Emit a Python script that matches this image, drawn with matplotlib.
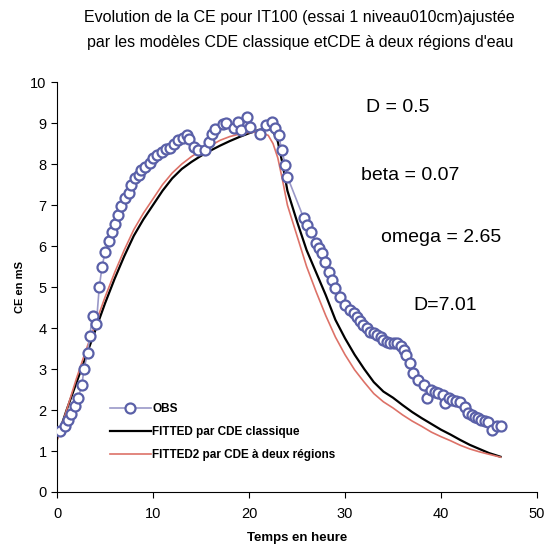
import matplotlib
matplotlib.use("Agg")
import matplotlib.pyplot as plt

plt.rcParams['font.family'] = ['Liberation Sans', 'DejaVu Sans']

# observations (temps en heure, CE en mS)
t_obs = [0.3, 0.8, 1.15, 1.5, 1.9, 2.2, 2.6, 2.8, 3.2, 3.4, 3.7, 4.1, 4.4, 4.7, 5.0,
         5.4, 5.7, 6.0, 6.4, 6.7, 7.1, 7.5, 7.7, 8.1, 8.5, 8.8, 9.2, 9.7, 10.0, 10.4,
         10.9, 11.4, 11.8, 12.2, 12.6, 13.1, 13.5, 13.7, 14.3, 14.7, 15.4, 15.8, 16.1,
         16.5, 17.3, 17.6, 18.4, 18.9, 19.2, 19.8, 20.1, 21.1, 21.8, 22.4, 22.7, 23.1,
         23.4, 23.8, 24.0, 25.7, 26.0, 26.5, 27.0, 27.3, 27.6, 27.9, 28.3, 28.6, 29.0,
         29.5, 30.0, 30.5, 30.9, 31.2, 31.6, 31.9, 32.3, 32.6, 33.0, 33.3, 33.7, 34.0,
         34.4, 34.7, 35.1, 35.4, 35.8, 36.1, 36.4, 36.8, 37.1, 37.6, 38.2, 38.5, 39.0,
         39.4, 39.7, 40.2, 40.4, 40.8, 41.1, 41.6, 42.0, 42.5, 42.8, 43.2, 43.5, 43.9,
         44.2, 44.6, 44.9, 45.3, 45.8, 46.3]
ce_obs = [1.5, 1.6, 1.75, 1.9, 2.1, 2.3, 2.6, 3.0, 3.4, 3.8, 4.3, 4.1, 5.0, 5.5, 5.85,
          6.13, 6.35, 6.54, 6.76, 6.98, 7.17, 7.3, 7.49, 7.66, 7.73, 7.85, 7.93, 8.02, 8.14, 8.22,
          8.3, 8.36, 8.4, 8.48, 8.58, 8.63, 8.7, 8.6, 8.42, 8.33, 8.34, 8.54, 8.74,
          8.86, 8.98, 9.0, 8.87, 9.03, 8.83, 9.15, 8.9, 8.74, 8.96, 9.03, 8.87, 8.7,
          8.34, 7.97, 7.69, 6.68, 6.51, 6.33, 6.07, 5.95, 5.82, 5.62, 5.37, 5.17, 4.97,
          4.76, 4.56, 4.44, 4.36, 4.28, 4.18, 4.07, 4.0, 3.91, 3.87, 3.83, 3.77, 3.71,
          3.67, 3.63, 3.63, 3.63, 3.55, 3.46, 3.34, 3.14, 2.9, 2.73, 2.61, 2.29, 2.49,
          2.45, 2.41, 2.37, 2.16, 2.3, 2.24, 2.22, 2.2, 2.08, 1.92, 1.88, 1.84, 1.8,
          1.76, 1.74, 1.71, 1.51, 1.62, 1.61]

# CDE classique
t_fit = [0, 1, 2, 3, 4, 5, 6, 7, 8, 9, 10, 11, 12, 13, 14, 15, 16, 17, 18, 19, 20, 21,
         22, 22.5, 23, 23.5, 24, 25, 26, 27, 28, 29, 30, 31, 32, 33, 34, 35, 36, 37, 38,
         39, 40, 41, 42, 43, 44, 45, 46.2]
ce_fit = [1.3, 2.0, 2.65, 3.3, 3.95, 4.6, 5.2, 5.75, 6.25, 6.65, 7.0, 7.35, 7.65, 7.88,
          8.05, 8.2, 8.33, 8.45, 8.56, 8.66, 8.75, 8.83, 8.87, 8.8, 8.55, 8.0, 7.35, 6.6,
          5.9, 5.35, 4.8, 4.2, 3.75, 3.35, 3.0, 2.68, 2.45, 2.3, 2.12, 1.95, 1.8, 1.66,
          1.52, 1.4, 1.27, 1.15, 1.05, 0.95, 0.86]

# CDE a deux regions
t_fit2 = t_fit
ce_fit2 = [1.25, 2.0, 2.75, 3.45, 4.1, 4.75, 5.35, 5.9, 6.4, 6.8, 7.15, 7.5, 7.78, 8.0,
           8.18, 8.33, 8.45, 8.58, 8.67, 8.73, 8.77, 8.78, 8.7, 8.5, 8.15, 7.6, 7.0, 6.25,
           5.5, 4.88, 4.3, 3.78, 3.35, 2.98, 2.68, 2.4, 2.2, 2.05, 1.88, 1.73, 1.6, 1.46,
           1.35, 1.25, 1.14, 1.05, 0.98, 0.92, 0.85]

params = [("D = 0.5", 35.5, 9.37), ("beta = 0.07", 36.8, 7.73),
          ("omega = 2.65", 40.0, 6.2), ("D=7.01", 40.4, 4.56)]

fig = plt.figure(figsize=(5.45, 5.52), dpi=100)
ax = fig.add_axes([0.1046, 0.1087, 0.8807, 0.7427])

ax.plot(t_obs, ce_obs, color='#9a98c8', lw=1.2, marker='o', ms=7.2, mfc='white',
        mec='#5a60a8', mew=1.6, label='OBS', zorder=3)
ax.plot(t_fit, ce_fit, color='black', lw=1.6, label='FITTED par CDE classique', zorder=2)
ax.plot(t_fit2, ce_fit2, color='#dd7268', lw=1.2, label='FITTED2 par CDE à deux régions', zorder=2)

for txt, x, y in params:
    ax.text(x, y, txt, ha='center', va='center', fontsize=14)

ax.set_xlim(0, 50)
ax.set_ylim(0, 10)
ax.set_xticks(range(0, 51, 10))
ax.set_yticks(range(0, 11))
ax.spines['top'].set_visible(False)
ax.spines['right'].set_visible(False)
ax.tick_params(labelsize=10.5, length=4, width=0.8)
ax.tick_params(axis='x', pad=7)
ax.set_xlabel('Temps en heure', fontsize=9.5, fontweight='bold', labelpad=8)
ax.set_ylabel('CE en mS', fontsize=8, fontweight='bold', labelpad=4)

ax.legend(loc='upper left', bbox_to_anchor=(0.1, 0.228), frameon=False,
          prop={'size': 8.5, 'weight': 'bold'}, handlelength=3.5, handletextpad=0.1,
          labelspacing=0.92, borderaxespad=0)

fig.text(0.55, 0.969, "Evolution de la CE pour IT100 (essai 1 niveau010cm)ajustée",
         ha='center', va='center', fontsize=11.5)
fig.text(0.55, 0.923, "par les modèles CDE classique etCDE à deux régions d'eau",
         ha='center', va='center', fontsize=11.5)

fig.savefig('out.png', dpi=100)
